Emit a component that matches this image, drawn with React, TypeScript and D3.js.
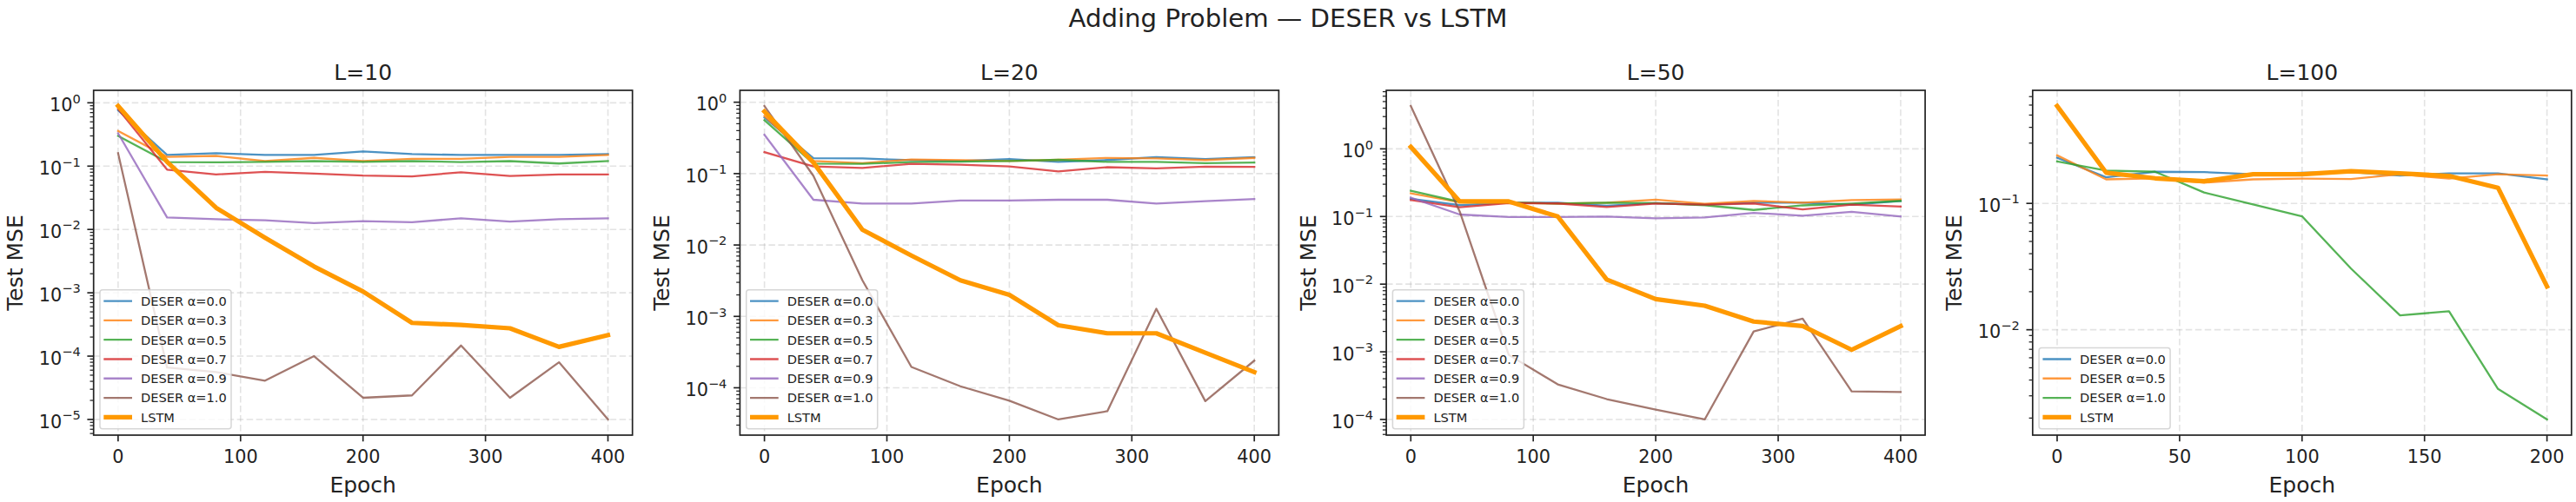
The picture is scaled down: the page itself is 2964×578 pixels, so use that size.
import * as d3 from 'd3';
import React from 'react';

// ---- data ----
const EPOCHS_400 = [0, 40, 80, 120, 160, 200, 240, 280, 320, 360, 400];
const EPOCHS_200 = [0, 20, 40, 60, 80, 100, 120, 140, 160, 180, 200];

const TICKS_400 = [0, 100, 200, 300, 400];
const TICKS_200 = [0, 50, 100, 150, 200];

const L10_A00 = [0.76, 0.15, 0.16, 0.15, 0.15, 0.17, 0.155, 0.15, 0.15, 0.15, 0.155];
const L10_A03 = [0.36, 0.14, 0.145, 0.12, 0.135, 0.12, 0.13, 0.13, 0.14, 0.14, 0.15];
const L10_A05 = [0.3, 0.116, 0.115, 0.117, 0.12, 0.117, 0.12, 0.116, 0.12, 0.11, 0.12];
const L10_A07 = [0.8, 0.088, 0.074, 0.081, 0.076, 0.071, 0.069, 0.08, 0.07, 0.074, 0.074];
const L10_A09 = [0.33, 0.0155, 0.0145, 0.014, 0.0126, 0.0135, 0.013, 0.015, 0.0133, 0.0145, 0.015];
const L10_A10 = [0.16, 6.6e-5, 5.6e-5, 4.1e-5, 1.0e-4, 2.2e-5, 2.4e-5, 1.47e-4, 2.2e-5, 8e-5, 1e-5];
const L10_LSTM = [0.89, 0.117, 0.022, 0.0074, 0.0026, 0.00105, 3.35e-4, 3.1e-4, 2.75e-4, 1.4e-4, 2.15e-4];

const L20_A00 = [0.61, 0.164, 0.163, 0.154, 0.15, 0.16, 0.146, 0.155, 0.17, 0.16, 0.17];
const L20_A03 = [0.64, 0.15, 0.14, 0.158, 0.154, 0.15, 0.156, 0.166, 0.163, 0.155, 0.166];
const L20_A05 = [0.56, 0.138, 0.137, 0.145, 0.147, 0.15, 0.156, 0.146, 0.146, 0.14, 0.143];
const L20_A07 = [0.2, 0.126, 0.12, 0.137, 0.133, 0.126, 0.107, 0.123, 0.118, 0.125, 0.124];
const L20_A09 = [0.35, 0.043, 0.038, 0.038, 0.042, 0.042, 0.043, 0.043, 0.038, 0.041, 0.044];
const L20_A10 = [0.885, 0.093, 0.0032, 1.96e-4, 1.05e-4, 6.6e-5, 3.6e-5, 4.7e-5, 1.28e-3, 6.5e-5, 2.4e-4];
const L20_LSTM = [0.74, 0.143, 0.0164, 0.0071, 0.0032, 0.002, 7.5e-4, 5.8e-4, 5.8e-4, 3.1e-4, 1.66e-4];

const L50_A00 = [0.183, 0.147, 0.16, 0.16, 0.144, 0.158, 0.15, 0.16, 0.16, 0.15, 0.17];
const L50_A03 = [0.22, 0.162, 0.16, 0.155, 0.16, 0.177, 0.154, 0.17, 0.16, 0.175, 0.178];
const L50_A05 = [0.24, 0.165, 0.16, 0.155, 0.16, 0.158, 0.147, 0.125, 0.146, 0.155, 0.17];
const L50_A07 = [0.175, 0.137, 0.158, 0.156, 0.138, 0.155, 0.15, 0.156, 0.127, 0.15, 0.14];
const L50_A09 = [0.19, 0.107, 0.098, 0.098, 0.1, 0.094, 0.097, 0.113, 0.103, 0.117, 0.1];
const L50_A10 = [4.3, 0.118, 9e-4, 3.3e-4, 2e-4, 1.4e-4, 1e-4, 2e-3, 3.1e-3, 2.6e-4, 2.55e-4];
const L50_LSTM = [1.07, 0.167, 0.167, 0.1, 0.0117, 0.006, 0.0048, 0.0028, 0.0024, 0.00107, 0.0024];

const L100_A00 = [0.23, 0.161, 0.178, 0.177, 0.17, 0.175, 0.177, 0.166, 0.173, 0.173, 0.155];
const L100_A05 = [0.24, 0.155, 0.158, 0.146, 0.155, 0.157, 0.156, 0.17, 0.157, 0.17, 0.166];
const L100_A10 = [0.215, 0.182, 0.178, 0.122, 0.098, 0.079, 0.0305, 0.013, 0.014, 0.0034, 0.00195];
const L100_LSTM = [0.59, 0.175, 0.158, 0.15, 0.17, 0.17, 0.18, 0.173, 0.165, 0.133, 0.022];

const TAB = ['#1f77b4', '#ff7f0e', '#2ca02c', '#d62728', '#9467bd', '#8c564b'];
const LSTM_COLOR = '#ff9900';

type Series = { label: string; color: string; values: number[]; lstm?: boolean };
type PanelCfg = { title: string; epochs: number[]; xticks: number[]; series: Series[] };

const PANELS: PanelCfg[] = [
  {
    title: 'L=10', epochs: EPOCHS_400, xticks: TICKS_400,
    series: [
      { label: 'DESER α=0.0', color: TAB[0], values: L10_A00 },
      { label: 'DESER α=0.3', color: TAB[1], values: L10_A03 },
      { label: 'DESER α=0.5', color: TAB[2], values: L10_A05 },
      { label: 'DESER α=0.7', color: TAB[3], values: L10_A07 },
      { label: 'DESER α=0.9', color: TAB[4], values: L10_A09 },
      { label: 'DESER α=1.0', color: TAB[5], values: L10_A10 },
      { label: 'LSTM', color: LSTM_COLOR, values: L10_LSTM, lstm: true },
    ],
  },
  {
    title: 'L=20', epochs: EPOCHS_400, xticks: TICKS_400,
    series: [
      { label: 'DESER α=0.0', color: TAB[0], values: L20_A00 },
      { label: 'DESER α=0.3', color: TAB[1], values: L20_A03 },
      { label: 'DESER α=0.5', color: TAB[2], values: L20_A05 },
      { label: 'DESER α=0.7', color: TAB[3], values: L20_A07 },
      { label: 'DESER α=0.9', color: TAB[4], values: L20_A09 },
      { label: 'DESER α=1.0', color: TAB[5], values: L20_A10 },
      { label: 'LSTM', color: LSTM_COLOR, values: L20_LSTM, lstm: true },
    ],
  },
  {
    title: 'L=50', epochs: EPOCHS_400, xticks: TICKS_400,
    series: [
      { label: 'DESER α=0.0', color: TAB[0], values: L50_A00 },
      { label: 'DESER α=0.3', color: TAB[1], values: L50_A03 },
      { label: 'DESER α=0.5', color: TAB[2], values: L50_A05 },
      { label: 'DESER α=0.7', color: TAB[3], values: L50_A07 },
      { label: 'DESER α=0.9', color: TAB[4], values: L50_A09 },
      { label: 'DESER α=1.0', color: TAB[5], values: L50_A10 },
      { label: 'LSTM', color: LSTM_COLOR, values: L50_LSTM, lstm: true },
    ],
  },
  {
    title: 'L=100', epochs: EPOCHS_200, xticks: TICKS_200,
    series: [
      { label: 'DESER α=0.0', color: TAB[0], values: L100_A00 },
      { label: 'DESER α=0.5', color: TAB[1], values: L100_A05 },
      { label: 'DESER α=1.0', color: TAB[2], values: L100_A10 },
      { label: 'LSTM', color: LSTM_COLOR, values: L100_LSTM, lstm: true },
    ],
  },
];

// ---- layout ----
const FIG_W = 2964;
const FIG_H = 578;
const AX_LEFTS = [107.7, 851.4, 1595.1, 2338.8];
const AX_W = 620;
const AX_TOP = 104;
const AX_BOTTOM = 501;
const FONT = '"DejaVu Sans", sans-serif';
const INK = '#222222';
const TICK_FS = 20.8;
const LABEL_FS = 25;
const LEGEND_FS = 14.6;

function logDomain(values: number[]): [number, number] {
  const lo = Math.log10(d3.min(values) as number);
  const hi = Math.log10(d3.max(values) as number);
  const pad = (hi - lo) * 0.05;
  return [Math.pow(10, lo - pad), Math.pow(10, hi + pad)];
}

function Panel({ cfg, left, idx }: { cfg: PanelCfg; left: number; idx: number }) {
  const right = left + AX_W;
  const xmin = d3.min(cfg.epochs) as number;
  const xmax = d3.max(cfg.epochs) as number;
  const xpad = (xmax - xmin) * 0.05;
  const x = d3.scaleLinear().domain([xmin - xpad, xmax + xpad]).range([left, right]);

  const all = cfg.series.flatMap(s => s.values);
  const [ylo, yhi] = logDomain(all);
  const y = d3.scaleLog().domain([ylo, yhi]).range([AX_BOTTOM, AX_TOP]);

  const dLo = Math.log10(ylo);
  const dHi = Math.log10(yhi);
  const majors = d3.range(Math.ceil(dLo), Math.floor(dHi) + 1);
  const minors: number[] = [];
  for (let d = Math.floor(dLo); d <= Math.floor(dHi); d++) {
    for (let k = 2; k <= 9; k++) {
      const v = k * Math.pow(10, d);
      if (v >= ylo && v <= yhi) minors.push(v);
    }
  }

  const line = d3
    .line<number>()
    .x((_, i) => x(cfg.epochs[i]))
    .y(v => y(v));

  const clipId = `clip-${idx}`;
  const cx = (left + right) / 2;
  const cy = (AX_TOP + AX_BOTTOM) / 2;

  // legend geometry
  const rowH = 22.27;
  const n = cfg.series.length;
  const legX = left + 7.3;
  const legBottom = AX_BOTTOM - 7.3;
  const legH = 13 + (n - 1) * rowH + 13.4;
  const legTop = legBottom - legH;
  const legW = 151;

  return (
    <g>
      <defs>
        <clipPath id={clipId}>
          <rect x={left} y={AX_TOP} width={AX_W} height={AX_BOTTOM - AX_TOP} />
        </clipPath>
      </defs>

      {/* grid */}
      <g stroke="#b0b0b0" strokeOpacity={0.35} strokeWidth={1.6} strokeDasharray="7.5,3.5">
        {cfg.xticks.map(t => (
          <line key={`gx${t}`} x1={x(t)} x2={x(t)} y1={AX_TOP} y2={AX_BOTTOM} />
        ))}
        {majors.map(d => (
          <line key={`gy${d}`} x1={left} x2={right} y1={y(Math.pow(10, d))} y2={y(Math.pow(10, d))} />
        ))}
      </g>

      {/* data */}
      <g clipPath={`url(#${clipId})`} fill="none" strokeLinejoin="round" strokeLinecap="square">
        {cfg.series.map(s => (
          <path
            key={s.label}
            d={line(s.values) || ''}
            stroke={s.color}
            strokeWidth={s.lstm ? 5.2 : 2.3}
            strokeOpacity={s.lstm ? 1 : 0.8}
          />
        ))}
      </g>

      {/* spines */}
      <rect x={left} y={AX_TOP} width={AX_W} height={AX_BOTTOM - AX_TOP} fill="none" stroke={INK} strokeWidth={1.7} />

      {/* x ticks */}
      {cfg.xticks.map(t => (
        <g key={`xt${t}`}>
          <line x1={x(t)} x2={x(t)} y1={AX_BOTTOM} y2={AX_BOTTOM + 7.3} stroke={INK} strokeWidth={1.67} />
          <text x={x(t)} y={533} textAnchor="middle" fontFamily={FONT} fontSize={TICK_FS} fill={INK}>
            {t}
          </text>
        </g>
      ))}

      {/* y ticks */}
      {minors.map(v => (
        <line key={`ym${v}`} x1={left - 4.2} x2={left} y1={y(v)} y2={y(v)} stroke={INK} strokeWidth={1.25} />
      ))}
      {majors.map(d => {
        const yy = y(Math.pow(10, d));
        const exp = d < 0 ? `\u2212${-d}` : `${d}`;
        return (
          <g key={`yt${d}`}>
            <line x1={left - 7.3} x2={left} y1={yy} y2={yy} stroke={INK} strokeWidth={1.67} />
            <text x={left - 15} y={yy + 9.7} textAnchor="end" fontFamily={FONT} fontSize={TICK_FS} fill={INK}>
              <tspan>10</tspan>
              <tspan dy={-9.4} fontSize={14.6}>{exp}</tspan>
            </text>
          </g>
        );
      })}

      {/* labels */}
      <text x={cx} y={92} textAnchor="middle" fontFamily={FONT} fontSize={LABEL_FS} fill={INK}>
        {cfg.title}
      </text>
      <text x={cx} y={567} textAnchor="middle" fontFamily={FONT} fontSize={LABEL_FS} fill={INK}>
        Epoch
      </text>
      <text
        transform={`translate(${left - 81.4},${cy}) rotate(-90)`}
        textAnchor="middle"
        fontFamily={FONT}
        fontSize={LABEL_FS}
        fill={INK}
      >
        Test MSE
      </text>

      {/* legend */}
      <g>
        <rect
          x={legX}
          y={legTop}
          width={legW}
          height={legH}
          rx={3}
          fill="#ffffff"
          fillOpacity={0.8}
          stroke="#cccccc"
          strokeOpacity={0.8}
          strokeWidth={1.5}
        />
        {cfg.series.map((s, i) => {
          const ry = legTop + 13 + i * rowH;
          return (
            <g key={`lg${s.label}`}>
              <line
                x1={legX + 4.3}
                x2={legX + 37}
                y1={ry}
                y2={ry}
                stroke={s.color}
                strokeWidth={s.lstm ? 5.2 : 2.3}
                strokeOpacity={s.lstm ? 1 : 0.8}
              />
              <text x={legX + 47} y={ry + 5.3} fontFamily={FONT} fontSize={LEGEND_FS} fill={INK}>
                {s.label}
              </text>
            </g>
          );
        })}
      </g>
    </g>
  );
}

export default function App() {
  return (
    <svg
      width={FIG_W}
      height={FIG_H}
      viewBox={`0 0 ${FIG_W} ${FIG_H}`}
      style={{ position: 'absolute', left: 0, top: 0, display: 'block', background: '#ffffff' }}
    >
      <rect x={0} y={0} width={FIG_W} height={FIG_H} fill="#ffffff" />
      <text x={FIG_W / 2} y={30.5} textAnchor="middle" fontFamily={FONT} fontSize={29.2} fill={INK}>
        Adding Problem — DESER vs LSTM
      </text>
      {PANELS.map((p, i) => (
        <Panel key={p.title} cfg={p} left={AX_LEFTS[i]} idx={i} />
      ))}
    </svg>
  );
}
